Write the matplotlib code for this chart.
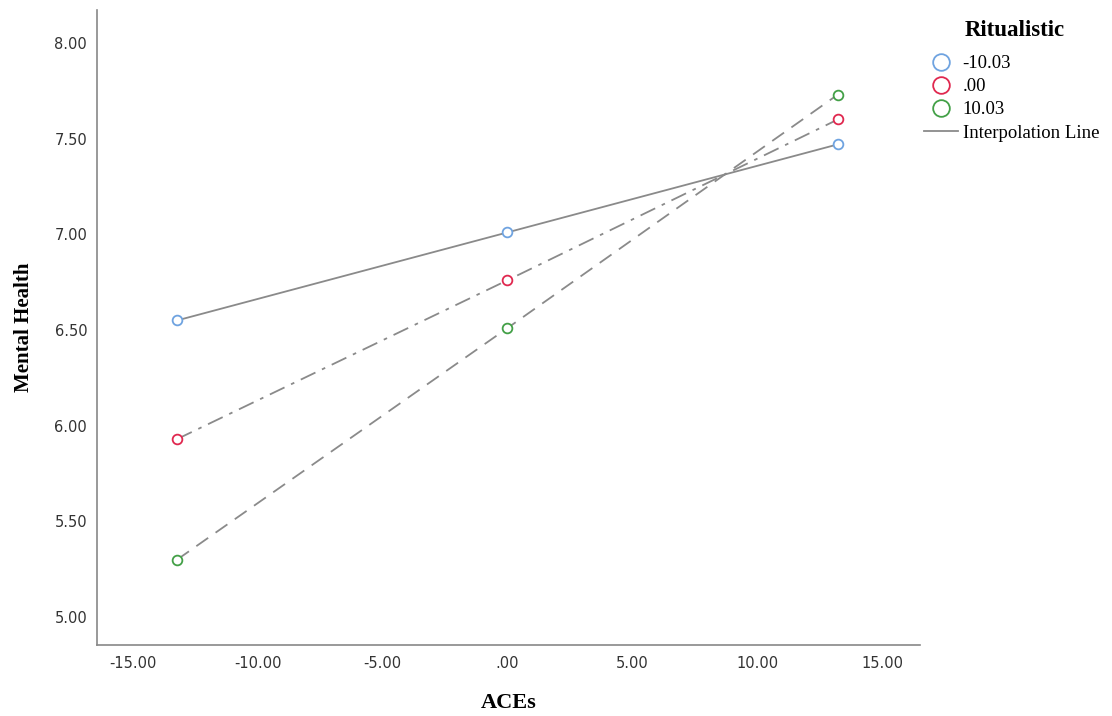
import numpy as np
import matplotlib
matplotlib.use("Agg")
import matplotlib.pyplot as plt
from matplotlib.lines import Line2D

# data
aces = [-13.23, 0.0, 13.23]
groups = ["-10.03", ".00", "10.03"]
mental = {
    "-10.03": [6.55, 7.01, 7.47],
    ".00": [5.93, 6.76, 7.60],
    "10.03": [5.30, 6.51, 7.73],
}
colors = {"-10.03": "#6fa3e0", ".00": "#e0284f", "10.03": "#43a047"}
styles = {"-10.03": "-", ".00": (0, (9, 4, 2, 4)), "10.03": (0, (8, 5))}

xticks = [-15, -10, -5, 0, 5, 10, 15]
yticks = [5.0, 5.5, 6.0, 6.5, 7.0, 7.5, 8.0]

fig = plt.figure(figsize=(11.12, 7.16), dpi=100)
ax = fig.add_axes([0.0872, 0.0992, 0.7401, 0.8868])

for g in groups:
    ax.plot(aces, mental[g], linestyle=styles[g], color="#8a8a8a", lw=1.3, zorder=2)
    ax.plot(aces, mental[g], linestyle="none", marker="o", ms=7, mfc="white",
            mec=colors[g], mew=1.3, zorder=3)

ax.set_xlim(-16.44, 16.52)
ax.set_ylim(4.854, 8.172)
ax.set_xticks(xticks)
ax.set_xticklabels(["-15.00", "-10.00", "-5.00", ".00", "5.00", "10.00", "15.00"])
ax.set_yticks(yticks)
ax.set_yticklabels([f"{v:.2f}" for v in yticks])
ax.tick_params(length=0, labelsize=10.5, colors="#333333")
ax.tick_params(axis="y", pad=7)
ax.tick_params(axis="x", pad=8)

for s in ["top", "right"]:
    ax.spines[s].set_visible(False)
for s in ["left", "bottom"]:
    ax.spines[s].set_color("#888888")
    ax.spines[s].set_linewidth(1.2)

ax.set_xlabel("ACEs", family="Liberation Serif", fontweight="bold", fontsize=16)
ax.set_ylabel("Mental Health", family="Liberation Serif", fontweight="bold", fontsize=15)
ax.xaxis.set_label_coords(0.500, -0.075)
ax.yaxis.set_label_coords(-0.076, 0.50)

# legend: title as its own text, entries below
fig.text(1015 / 1112, 1 - 30 / 716, "Ritualistic", family="Liberation Serif",
         fontweight="bold", fontsize=16.5, ha="center", va="center")
handles = [Line2D([], [], linestyle="none", marker="o", ms=12, mfc="white",
                  mec=colors[g], mew=1.3) for g in groups]
handles.append(Line2D([], [], color="#8a8a8a", lw=1.3))
leg = fig.legend(handles, groups + ["Interpolation Line"], loc="upper left",
                 bbox_to_anchor=(0.831, 1 - 55 / 716), frameon=False,
                 prop={"family": "Liberation Serif", "size": 13.5},
                 handlelength=1.8, handletextpad=0.25,
                 labelspacing=0.32, borderaxespad=0, borderpad=0)

fig.savefig("out.png", dpi=100)
